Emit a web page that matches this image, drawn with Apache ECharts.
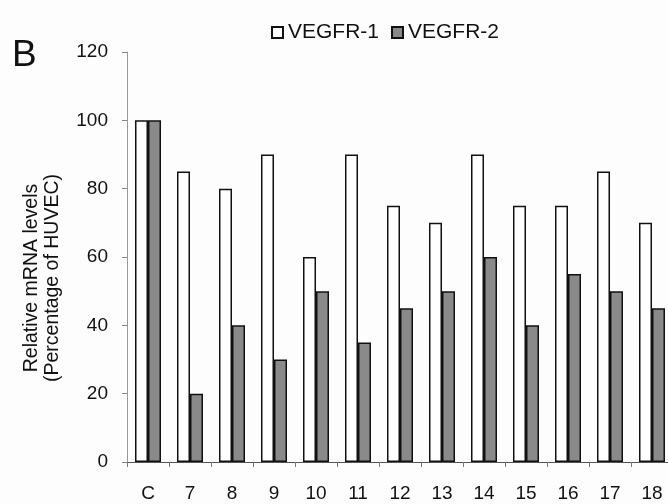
<!DOCTYPE html>
<html>
<head>
<meta charset="utf-8">
<script src="https://cdn.jsdelivr.net/npm/echarts@6/dist/echarts.min.js"></script>
<style>
html,body{margin:0;padding:0;background:#fdfdfd;}
#chart{width:668px;height:504px;}
</style>
</head>
<body>
<div id="chart"></div>
<script>
const categories = ['C','7','8','9','10','11','12','13','14','15','16','17','18'];
const vegfr1 = [100,85,80,90,60,90,75,70,90,75,75,85,70];
const vegfr2 = [100,20,40,30,50,35,45,50,60,40,55,50,45];
const yTicks = [0,20,40,60,80,100,120];

const font = 'Liberation Sans, Arial, sans-serif';
const chart = echarts.init(document.getElementById('chart'));
chart.setOption({
  backgroundColor: '#fdfdfd',
  animation: false,
  graphic: [{
    type: 'text', left: 12, top: 37,
    style: { text: 'B', fontSize: 37, fontFamily: font, fill: '#111' }
  }],
  legend: {
    top: 17, left: 266,
    itemWidth: 11, itemHeight: 11, itemGap: 12,
    icon: 'rect',
    textStyle: { fontSize: 21, fontFamily: font, color: '#111' },
    data: ['VEGFR-1','VEGFR-2']
  },
  grid: { left: 127, top: 52, width: 546, height: 410, outerBoundsMode: 'none', containLabel: false },
  xAxis: {
    type: 'category',
    data: categories,
    axisLine: { lineStyle: { color: '#555', width: 1 } },
    axisTick: { show: true, length: 5, lineStyle: { color: '#777' } },
    axisLabel: { fontSize: 19, fontFamily: font, color: '#111', margin: 22 }
  },
  yAxis: {
    type: 'value', min: yTicks[0], max: yTicks[yTicks.length-1], interval: 20,
    name: 'Relative mRNA levels\n(Percentage of HUVEC)',
    nameLocation: 'middle', nameRotate: 90, nameGap: 64,
    nameTextStyle: { fontSize: 19.5, fontFamily: font, color: '#111', lineHeight: 21, padding: [0, 42, 0, 0] },
    axisLine: { show: true, lineStyle: { color: '#999', width: 1 } },
    axisTick: { show: true, length: 5, lineStyle: { color: '#888' } },
    splitLine: { show: false },
    axisLabel: { fontSize: 19, fontFamily: font, color: '#111', margin: 19 }
  },
  series: [
    { name: 'VEGFR-1', type: 'bar', data: vegfr1, barWidth: 13, barGap: '0.01%',
      itemStyle: { color: '#ffffff', borderColor: '#111', borderWidth: 1.5 } },
    { name: 'VEGFR-2', type: 'bar', data: vegfr2, barWidth: 13, barGap: '0.01%',
      itemStyle: { color: '#8a8a8a', borderColor: '#111', borderWidth: 1.5 } }
  ]
});
</script>
</body>
</html>
